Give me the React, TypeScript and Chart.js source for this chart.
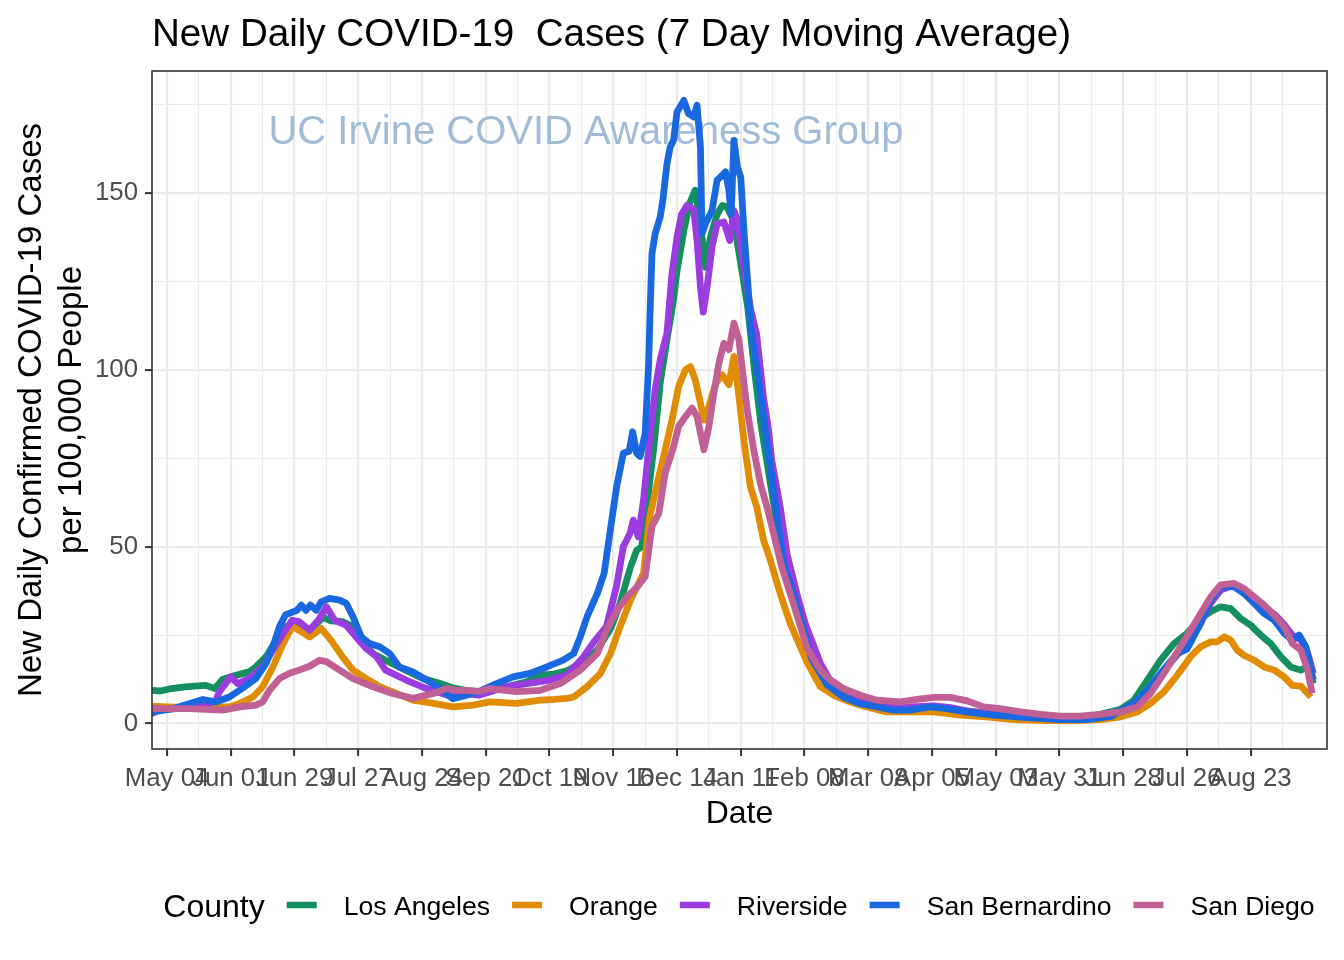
import React, { useEffect, useRef } from "react";
import { Chart, registerables } from "chart.js";

Chart.register(...registerables);

// ---- Data (x = days since 2020-05-04, y = new daily cases per 100k, 7-day avg) ----
const countyNames = ["Los Angeles", "Orange", "Riverside", "San Bernardino", "San Diego"];
const countyColors = ["#168F60", "#E08C05", "#9A3CE0", "#1A68E0", "#C06095"];

const xTickLabels = [
  "May 04", "Jun 01", "Jun 29", "Jul 27", "Aug 24", "Sep 21", "Oct 19", "Nov 16", "Dec 14",
  "Jan 11", "Feb 08", "Mar 08", "Apr 05", "May 03", "May 31", "Jun 28", "Jul 26", "Aug 23",
];
const yTickLabels = ["0", "50", "100", "150"];

const losAngeles = [
  [-7, 9.4], [-3, 9.2], [2, 9.9], [7, 10.3], [12, 10.6], [17, 10.8], [21, 9.9], [24.5, 12.5], [29, 13.4], [36, 14.6],
  [39, 16], [43.5, 18.9], [48, 23.6], [52, 27.4], [57, 27.8], [62.6, 26.4], [68.5, 30], [72, 29], [77, 28.8], [81.7, 27.4],
  [86, 23], [90.5, 19.8], [96, 17.9], [105, 15], [112.5, 12.7], [120, 11.3], [126, 10], [133, 9.2], [140, 9], [150, 10.5],
  [158, 11.8], [164, 13.7], [170, 14], [176, 15], [183, 17.5], [189, 20.8], [195, 27], [199, 34], [203.6, 44.3], [206.3, 49],
  [208.5, 50], [210.7, 61.3], [213.7, 77.4], [216.6, 96.2], [219.6, 108.5], [222.5, 120], [224, 128], [227, 139.4], [229.5, 147], [232, 150.8],
  [234.3, 141.3], [236.5, 129], [238.7, 137.5], [241.6, 144], [243.9, 146.5], [246, 146], [249, 142], [252, 130], [255, 118], [258, 100],
  [261, 84], [264, 72], [267, 60], [270, 48], [273, 40], [276, 33], [281, 24], [287, 16], [291, 12.5], [297, 9.5],
  [304, 7.2], [312, 5.5], [322, 4.5], [330, 4.5], [337, 4.6], [344, 4.3], [351, 3.6], [359, 3], [366, 2.6], [375, 2.1],
  [384, 1.7], [392, 1.5], [401, 1.5], [410, 2.6], [418.8, 4], [424.7, 6.6], [430.6, 12.3], [436.4, 17.9], [442.3, 22.6], [448, 25.5],
  [454, 29.7], [458.4, 31.6], [462.8, 33], [467.2, 32.5], [471.6, 29.7], [476, 27.8], [480.4, 25], [484.8, 22.6], [489.2, 18.9], [493.6, 16],
  [498, 15.1], [501, 16], [503.5, 11.3],
];

const orange = [
  [-7, 4.9], [0, 4.7], [10, 4.5], [20, 4.7], [27.4, 4.7], [32, 5.7], [37.7, 7.5], [42, 10.4], [46.5, 16], [51, 22.6],
  [55, 27.4], [58, 26.4], [62.6, 24.5], [67.7, 26.9], [72, 23.6], [77, 18.9], [81.7, 15.1], [87.5, 12.7], [93.4, 10.4], [100.7, 8.5],
  [108, 6.6], [117, 5.7], [125.7, 4.7], [134.4, 5.2], [141.8, 6.1], [153.5, 5.7], [164, 6.6], [170, 6.8], [175.6, 7.1], [178.6, 7.5],
  [184.5, 10.4], [190.4, 14.2], [194.8, 19.8], [199, 27.4], [203.6, 34.9], [209.3, 42.5], [212, 58.5], [215, 67], [218.8, 77.4], [221.8, 85.8],
  [224.7, 95.3], [227.7, 100], [229.9, 100.9], [232, 97.2], [234.3, 90.6], [235.8, 85.8], [238, 89.6], [241, 96.2], [243.9, 98.6], [246.8, 95.8],
  [249, 103.8], [251.2, 92.5], [253.4, 80], [256.2, 67], [259, 61.3], [262, 51.9], [265, 46.2], [269.3, 36.8], [273.7, 28.3], [281, 17.5],
  [287, 10.4], [292.8, 8], [300, 6.1], [307.4, 4.7], [316, 3.3], [325, 3.3], [336.7, 3.3], [348.5, 2.4], [360, 1.9], [372, 1.1],
  [386.6, 0.8], [399.8, 0.8], [410, 1.1], [418.8, 1.9], [426.2, 3.3], [432, 5.7], [437.9, 9], [443.8, 13.7], [449.6, 18.9], [454, 21.7],
  [458.4, 23.1], [461.3, 23.1], [464.3, 24.5], [467.2, 23.6], [470, 20.8], [473, 19.3], [477.5, 17.9], [481.9, 16], [486.3, 15.1], [490.7, 13.2],
  [494.3, 10.8], [498, 10.6], [502.4, 7.5],
];

const riverside = [
  [-7, 4.2], [0, 4], [10, 4.5], [18, 5.5], [21.5, 6.6], [23, 9], [28, 13.2], [31, 11.3], [36, 12.7], [42, 16],
  [46.5, 20.8], [51, 25.5], [55, 29.2], [58, 28.8], [62.6, 26.4], [67, 29.7], [70, 33], [73.6, 29.2], [78.7, 27.8], [83, 24.5],
  [87.5, 21.2], [92, 18.9], [96, 15.1], [105, 12.3], [114, 9.9], [125.7, 7.5], [131, 8.5], [137, 8], [149, 10.4], [158, 11.3],
  [168, 12.3], [175.6, 13.7], [183, 18.9], [187.4, 23], [193, 27.4], [197.5, 39], [200.4, 50], [203.4, 53.8], [204.8, 57.5], [207, 52.8],
  [209.3, 63.2], [211.5, 77.4], [214.4, 94.3], [216.6, 102.8], [219.6, 110.4], [221.8, 127.2], [224, 137.5], [226, 144], [228.4, 146.5], [231.3, 145.5],
  [232.8, 136.6], [234.3, 123.4], [235.5, 116.3], [237.2, 123.4], [239.4, 134.7], [241.6, 141.3], [244.6, 141.8], [247.2, 136.6], [249, 145], [250.5, 142.3],
  [253.4, 129], [256.4, 117], [259, 110], [262, 92], [264, 84], [265.6, 74.5], [269.3, 61.3], [272.3, 48], [276.6, 36.8], [280.3, 28.3],
  [287, 17], [291, 12.5], [297, 9.9], [304, 7.5], [312, 5.8], [319, 4.5], [329, 4.8], [337, 5], [344, 4.5], [351, 3.6],
  [363, 2.6], [378, 1.9], [392, 1.4], [401, 1.4], [410, 2.4], [418.8, 3.4], [424.7, 5.2], [430.6, 9], [436.4, 13.8], [443.8, 19.5],
  [448, 22], [454, 28.5], [458.4, 34], [462.8, 37.7], [468.7, 39.2], [473, 37.5], [477.5, 35], [481.9, 32.5], [486.3, 31], [490.7, 28],
  [494.3, 25], [498, 23.6], [501, 20], [503.5, 14.2],
];

const sanBernardino = [
  [-7, 2.8], [-4, 3.5], [2.5, 4.2], [10, 5.7], [15.7, 6.8], [21.5, 6.1], [27.4, 7.5], [33, 9.9], [39, 12.7], [43.5, 17],
  [46.5, 21.7], [49.4, 27.4], [52, 30.7], [57, 32], [59, 33.5], [61, 32], [63, 33.5], [65.5, 32], [67.7, 34.4], [71.4, 35.4],
  [75.8, 34.9], [78.7, 34], [81.7, 30.2], [85.3, 24.5], [89, 22.6], [93.4, 21.7], [97.8, 19.8], [102, 16], [108, 14.6], [114, 12.3],
  [120, 9.9], [125.6, 7], [131.5, 8], [137, 9], [144.7, 11.3], [152, 13.2], [159.4, 14.2], [166.8, 16], [174, 17.9], [178.6, 19.8],
  [181.5, 24.5], [184.5, 30.2], [189, 36.8], [192, 42.5], [194.5, 53.8], [197.5, 67], [200.4, 76.4], [203, 77], [204.5, 82.5], [206.3, 76.4],
  [207.8, 75.5], [210, 82], [211.5, 101], [212.2, 117], [213, 132.8], [214.4, 138.5], [216.6, 143.2], [217.8, 148], [219.6, 158.3], [221, 163],
  [222.5, 164.9], [224, 172.9], [227, 176.2], [229, 172.5], [231.3, 171.5], [232.8, 174.8], [234.3, 163], [235, 138.5], [236.5, 141.3], [239.4, 145],
  [241.6, 153.6], [243.9, 155], [245.3, 156], [246.8, 150.8], [247.8, 144], [249, 164.9], [250.5, 157.4], [252, 154.5], [253.4, 139.4], [255, 125.3],
  [256.4, 112], [259, 101], [262, 86.8], [265, 72.6], [268, 58.5], [270.8, 45.3], [275, 36.8], [279.5, 27], [283, 18.5], [289.8, 11],
  [297, 7.5], [304, 5.7], [312, 4.7], [319, 3.8], [326, 3.8], [335, 4.7], [342.6, 4.2], [351, 3.3], [363, 2.4], [377.8, 1.7],
  [392.5, 1.1], [404, 1.1], [415, 2.1], [418.8, 3.6], [424.7, 5.7], [430.6, 9.4], [436.4, 14.2], [443.8, 19.8], [448, 21], [454, 28.3],
  [458.4, 34.9], [462.8, 38.7], [468.7, 38.7], [473, 36.8], [477.5, 34], [481.9, 31.1], [486.3, 29.2], [490.7, 25.5], [494.3, 23.6], [497.3, 25],
  [500.2, 21.7], [503.5, 12.3],
];

const sanDiego = [
  [-7, 4.2], [0, 4.2], [10, 4.2], [17, 4], [24.5, 3.8], [32, 4.7], [39, 5.2], [42, 6.1], [45, 9.4], [49.4, 12.7],
  [53.8, 14.2], [58, 15.1], [62.6, 16.2], [67, 17.9], [70, 17.5], [75.8, 15.1], [81.7, 12.7], [90.5, 10.4], [99, 8.5], [108, 7.1],
  [117, 8.5], [122.7, 9.9], [127, 9.4], [131.5, 9.4], [137, 9], [141.8, 9.9], [153.5, 9], [164, 9.4], [172.7, 11.3], [181.5, 15.1],
  [189, 19.8], [193, 26.4], [197.7, 32], [202, 35.8], [206.6, 38.7], [210, 41.5], [213, 55.7], [216, 59.4], [218.8, 70.8], [222.5, 78.3],
  [224.7, 84], [227.7, 86.8], [230.6, 89.2], [232.8, 86.8], [235.8, 77.4], [238, 84], [240.2, 93.4], [242.4, 101.9], [244.6, 107.5], [246.8, 105.7],
  [249, 113.2], [251.2, 108.5], [253.4, 96.2], [255, 88], [257.7, 77.4], [260.6, 67.9], [263.5, 61.3], [266.4, 53.8], [270, 44.3], [273.7, 36.8],
  [278, 28], [281, 21.5], [287, 15.1], [291.3, 12.3], [297, 9.9], [304.5, 8], [311.8, 6.6], [322, 6.1], [329.4, 6.8], [336.7, 7.4],
  [344, 7.4], [351.4, 6.4], [358.7, 4.7], [366, 4.2], [374.9, 3.3], [383.7, 2.6], [392.5, 2.1], [401, 2.1], [410, 2.6], [418.8, 3.3],
  [426.2, 4.7], [432, 8.5], [437.9, 14.2], [443.8, 20.3], [449.6, 26.4], [454, 31.1], [458.4, 35.8], [462.8, 39.2], [468.7, 39.6], [473, 38.2],
  [477.5, 35.8], [481.9, 33.5], [486.3, 30.7], [490.7, 27.4], [494.3, 22.6], [498, 20.8], [501, 15.1], [503, 8.5],
];

const seriesList = [losAngeles, orange, riverside, sanBernardino, sanDiego];

const titleText = "New Daily COVID-19  Cases (7 Day Moving Average)";
const xTitle = "Date";
const yTitleLines = ["New Daily Confirmed COVID-19 Cases", "per 100,000 People"];
const watermark = "UC Irvine COVID Awareness Group";
const legendTitle = "County";

const FONT = "'Liberation Sans', Arial, Helvetica, sans-serif";

const decorPlugin = {
  id: "decor",
  beforeDatasetsDraw(chart: any) {
    const ctx = chart.ctx;
    ctx.save();
    ctx.font = `40px ${FONT}`;
    ctx.fillStyle = "#A2BCD8";
    ctx.textAlign = "center";
    ctx.textBaseline = "alphabetic";
    ctx.fillText(watermark, 586, 144);
    ctx.restore();
  },
  afterDatasetsDraw(chart: any) {
    const { ctx, chartArea } = chart;
    ctx.save();
    ctx.strokeStyle = "#333333";
    ctx.lineWidth = 1.6;
    ctx.strokeRect(chartArea.left, chartArea.top, chartArea.right - chartArea.left, chartArea.bottom - chartArea.top);
    ctx.restore();
  },
  afterDraw(chart: any) {
    const { ctx, chartArea } = chart;
    ctx.save();
    ctx.fillStyle = "#000000";
    ctx.textBaseline = "alphabetic";
    // title
    ctx.font = `38.6px ${FONT}`;
    ctx.textAlign = "left";
    ctx.fillText(titleText, chartArea.left, 46);
    // x title
    ctx.font = `32px ${FONT}`;
    ctx.textAlign = "center";
    ctx.fillText(xTitle, (chartArea.left + chartArea.right) / 2, 823);
    // y title
    ctx.font = `33px ${FONT}`;
    const cy = (chartArea.top + chartArea.bottom) / 2;
    const baselines = [41, 81];
    yTitleLines.forEach((line, i) => {
      ctx.save();
      ctx.translate(baselines[i], cy);
      ctx.rotate(-Math.PI / 2);
      ctx.textAlign = "center";
      ctx.fillText(line, 0, 0);
      ctx.restore();
    });
    // legend
    const legendY = 905;
    const keyW = 30;
    ctx.font = `32px ${FONT}`;
    const titleW = ctx.measureText(legendTitle).width;
    ctx.font = `26.6px ${FONT}`;
    const labelWs = countyNames.map((n) => ctx.measureText(n).width);
    const gapTitle = 22, gapKey = 27, gapItem = 22;
    let total = titleW + gapTitle;
    labelWs.forEach((w, i) => {
      total += keyW + gapKey + w + (i < labelWs.length - 1 ? gapItem : 0);
    });
    let x = 739 - total / 2;
    ctx.font = `32px ${FONT}`;
    ctx.textAlign = "left";
    ctx.fillText(legendTitle, x, legendY + 11.5);
    x += titleW + gapTitle;
    countyNames.forEach((name, i) => {
      ctx.strokeStyle = countyColors[i];
      ctx.lineWidth = 6.5;
      ctx.lineCap = "butt";
      ctx.beginPath();
      ctx.moveTo(x, legendY);
      ctx.lineTo(x + keyW, legendY);
      ctx.stroke();
      x += keyW + gapKey;
      ctx.font = `26.6px ${FONT}`;
      ctx.fillStyle = "#000000";
      ctx.fillText(name, x, legendY + 9.5);
      x += labelWs[i] + gapItem;
    });
    ctx.restore();
  },
};

export default function App() {
  const canvasRef = useRef<HTMLCanvasElement | null>(null);

  useEffect(() => {
    document.body.style.margin = "0";
    const canvas = canvasRef.current;
    if (!canvas) return;

    const xGridDays: number[] = [];
    for (let i = 0; i < xTickLabels.length * 2; i++) xGridDays.push(i * 14);
    const yGridValues = [0, 25, 50, 75, 100, 125, 150, 175];

    const chart = new Chart(canvas, {
      type: "line",
      data: {
        datasets: seriesList.map((s, i) => ({
          label: countyNames[i],
          data: s.map(([d, v]) => ({ x: d, y: v })),
          borderColor: countyColors[i],
          backgroundColor: countyColors[i],
          borderWidth: 6.8,
          borderCapStyle: "butt",
          borderJoinStyle: "round",
          pointRadius: 0,
          tension: 0,
          fill: false,
          clip: 0,
          order: countyNames.length - i,
        })),
      },
      options: {
        responsive: false,
        animation: false,
        devicePixelRatio: 1,
        layout: { padding: { left: 0, right: 17, top: 71, bottom: 0 } },
        plugins: {
          legend: { display: false },
          title: { display: false },
          tooltip: { enabled: false },
        },
        scales: {
          x: {
            type: "linear",
            min: -6.6,
            max: 509.5,
            afterBuildTicks: (scale: any) => {
              scale.ticks = xGridDays.map((v) => ({ value: v }));
            },
            afterFit: (scale: any) => {
              scale.height = 960 - 749;
            },
            border: { display: false },
            grid: {
              color: "#EBEBEB",
              lineWidth: (c: any) => (c.tick && c.tick.value % 28 === 0 ? 2.2 : 1.1),
              tickColor: (c: any) => (c.tick && c.tick.value % 28 === 0 ? "#333333" : "rgba(0,0,0,0)"),
              tickWidth: 2,
              tickLength: 7,
              drawTicks: true,
            },
            ticks: {
              autoSkip: false,
              maxRotation: 0,
              minRotation: 0,
              padding: 7,
              color: "#4D4D4D",
              font: { family: FONT, size: 25.8 },
              callback: (v: any) => (v % 28 === 0 ? xTickLabels[v / 28] : ""),
            },
          },
          y: {
            type: "linear",
            min: -7.2,
            max: 184.5,
            afterBuildTicks: (scale: any) => {
              scale.ticks = yGridValues.map((v) => ({ value: v }));
            },
            afterFit: (scale: any) => {
              scale.width = 152;
            },
            border: { display: false },
            grid: {
              color: "#EBEBEB",
              lineWidth: (c: any) => (c.tick && c.tick.value % 50 === 0 ? 2.2 : 1.1),
              tickColor: (c: any) => (c.tick && c.tick.value % 50 === 0 ? "#333333" : "rgba(0,0,0,0)"),
              tickWidth: 2,
              tickLength: 7,
              drawTicks: true,
            },
            ticks: {
              padding: 7,
              color: "#4D4D4D",
              font: { family: FONT, size: 25.8 },
              callback: (v: any) => (v % 50 === 0 ? yTickLabels[v / 50] : ""),
            },
          },
        },
      },
      plugins: [decorPlugin],
    } as any);

    return () => chart.destroy();
  }, []);

  return (
    <div style={{ position: "absolute", left: 0, top: 0, width: 1344, height: 960, background: "#FFFFFF" }}>
      <canvas ref={canvasRef} width={1344} height={960} style={{ display: "block" }} />
    </div>
  );
}
